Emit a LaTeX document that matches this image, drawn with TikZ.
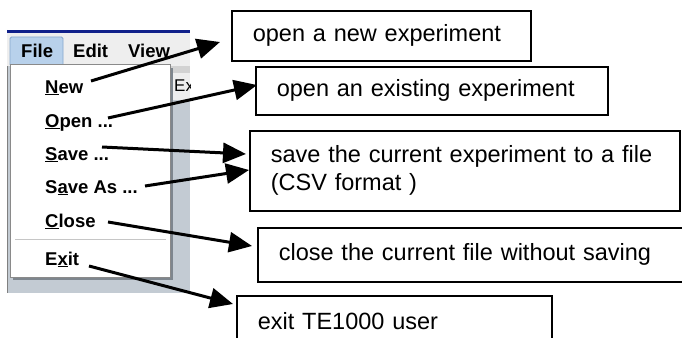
\documentclass[tikz,border=0pt]{standalone}
\usepackage{fontspec}
\setmainfont{Liberation Sans}
\usetikzlibrary{arrows.meta}

\definecolor{barbg}{HTML}{EEEEEE}
\definecolor{titleblue}{HTML}{10208A}
\definecolor{deskgray}{HTML}{C3CBD3}
\definecolor{hilite}{HTML}{B8D1EB}
\definecolor{hiliteedge}{HTML}{86A8CE}
\definecolor{paneledge}{HTML}{8A8A8A}
\definecolor{shadow}{HTML}{7E868E}

\newcommand{\mnem}[1]{\underline{#1}}

\tikzset{
  note/.style={draw=black, line width=1.6pt, fill=white, anchor=north west,
    align=left, inner xsep=21pt, inner ysep=0pt,
    font=\fontsize{23.5}{28}\selectfont},
  menuitem/.style={anchor=base west, inner sep=0pt,
    font=\fontsize{18.5}{20}\selectfont\bfseries},
  pointer/.style={draw=black, line width=3pt,
    -{Triangle[length=23pt,width=20pt]}}
}

\begin{document}
\begin{tikzpicture}[x=1pt, y=-1pt]
\clip (0,0) rectangle (682,337);
\fill[white] (0,0) rectangle (682,337);

% window area behind the menu
\fill[deskgray] (7,66) rectangle (190,293);
\draw[gray, line width=0.8pt] (7,30) -- (7,293);
\fill[barbg] (7,33) rectangle (190,66);
\fill[titleblue] (7,30.5) rectangle (190,33);
\fill[gray!35] (170,66) rectangle (190,73);
\fill[barbg] (173,73) rectangle (190,100);
\begin{scope}
  \clip (173,73) rectangle (190,100);
  \node[anchor=base west, inner sep=0pt, font=\fontsize{17}{19}\selectfont] (tab) at (174,92) {Ex};
\end{scope}

% menu bar
\draw[hiliteedge, fill=hilite, line width=0.8pt, rounded corners=1.5pt] (10,37) rectangle (63,66);
\node[menuitem] (file) at (21,58) {File};
\node[menuitem] (edit) at (73,58) {Edit};
\node[menuitem] (view) at (128,58) {View};

% drop-down panel
\fill[shadow] (13,68) rectangle (173,280);
\draw[paneledge, fill=white, line width=0.8pt] (10,64) rectangle (170,277);
\draw[gray!45, line width=0.8pt] (15,239) -- (166,239);

\node[menuitem] (new)    at (45,93)  {\mnem{N}ew};
\node[menuitem] (open)   at (45,127) {\mnem{O}pen ...};
\node[menuitem] (save)   at (45,160) {\mnem{S}ave ...};
\node[menuitem] (saveas) at (45,193) {S\mnem{a}ve As ...};
\node[menuitem] (close)  at (45,227) {\mnem{C}lose};
\node[menuitem] (exit)   at (45,265) {E\mnem{x}it};

% explanation boxes
\node[note, minimum width=299pt, minimum height=50pt, text width=257pt] (bnew) at (231,10)
  {open a new experiment};
\node[note, minimum width=352pt, minimum height=48pt, text width=310pt] (bopen) at (255,66)
  {open an existing experiment};
\node[note, minimum width=430pt, minimum height=80pt, text width=388pt, inner xsep=20pt] (bsave) at (249,130)
  {save the current experiment to a file\\(CSV format )};
\node[note, minimum width=440pt, minimum height=54pt, text width=398pt] (bclose) at (257,227)
  {close the current file without saving};
\node[note, minimum width=315pt, minimum height=50pt, text width=273pt] (bexit) at (236,295)
  {exit TE1000 user};

% arrow ends
\coordinate (snew)    at (91,81);
\coordinate (sopen)   at (108,118);
\coordinate (ssave)   at (102,147);
\coordinate (ssaveas) at (145,186);
\coordinate (sclose)  at (108,222);
\coordinate (sexit)   at (89,266);
\coordinate (tnew)    at (220,42);
\coordinate (topen)   at (257,85);
\coordinate (tsave)   at (246,154);
\coordinate (tsaveas) at (249,170);
\coordinate (tclose)  at (252,246);
\coordinate (texit)   at (233,304);

\draw[pointer] (snew) -- (tnew);
\draw[pointer] (sopen) -- (topen);
\draw[pointer] (ssave) -- (tsave);
\draw[pointer] (ssaveas) -- (tsaveas);
\draw[pointer] (sclose) -- (tclose);
\draw[pointer] (sexit) -- (texit);
\end{tikzpicture}
\end{document}
